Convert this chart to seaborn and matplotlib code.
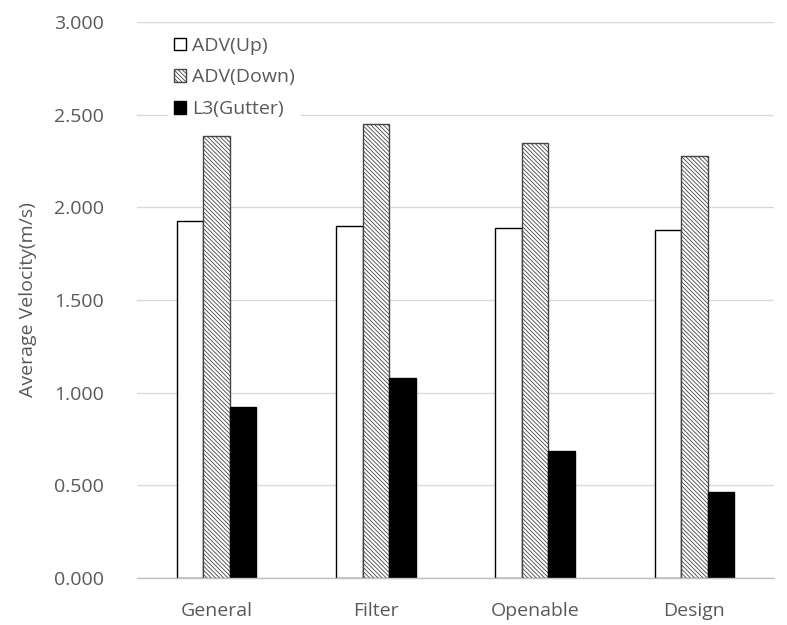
import matplotlib
matplotlib.use('Agg')
import matplotlib.pyplot as plt
import seaborn as sns
import pandas as pd
from matplotlib.patches import Patch
from matplotlib.ticker import FormatStrFormatter

categories = ['General', 'Filter', 'Openable', 'Design']
series = ['ADV(Up)', 'ADV(Down)', 'L3(Gutter)']
adv_up = [1.927, 1.900, 1.890, 1.876]
adv_down = [2.385, 2.452, 2.347, 2.277]
l3_gutter = [0.923, 1.081, 0.685, 0.462]
yticks = [0.0, 0.5, 1.0, 1.5, 2.0, 2.5, 3.0]

rows = []
for name, vals in zip(series, [adv_up, adv_down, l3_gutter]):
    for c, v in zip(categories, vals):
        rows.append({'cat': c, 'series': name, 'val': v})
df = pd.DataFrame(rows)

sns.set_theme(style='white')
plt.rcParams['font.family'] = ['Open Sans', 'DejaVu Sans']
plt.rcParams['hatch.linewidth'] = 0.6
text_color = '#595959'
fs = 14

fig = plt.figure(figsize=(7.87, 6.25), dpi=100)
ax = fig.add_axes([137/787, 1-578/625, (774-137)/787, (578-22)/625])
sns.barplot(data=df, x='cat', y='val', hue='series', order=categories,
            hue_order=series, width=0.5, gap=0, palette=['white', 'white', 'black'],
            saturation=1, ax=ax, legend=False, errorbar=None)

hatch = '\\\\\\\\\\\\\\\\'
styles = [dict(facecolor='white', edgecolor='black', hatch=None),
          dict(facecolor='white', edgecolor='#444444', hatch=hatch),
          dict(facecolor='black', edgecolor='black', hatch=None)]
for cont, st in zip(ax.containers, styles):
    for p in cont:
        p.set_facecolor(st['facecolor'])
        p.set_edgecolor(st['edgecolor'])
        p.set_linewidth(1.0)
        if st['hatch']:
            p.set_hatch(st['hatch'])

ax.set_ylim(0, 3.0)
ax.set_yticks(yticks)
ax.yaxis.set_major_formatter(FormatStrFormatter('%.3f'))
ax.grid(axis='y', color='#d9d9d9', linewidth=1)
ax.set_axisbelow(True)
for s in ['top', 'right', 'left']:
    ax.spines[s].set_visible(False)
ax.spines['bottom'].set_color('#bfbfbf')
ax.spines['bottom'].set_linewidth(1)
ax.tick_params(axis='both', length=0, labelsize=fs, colors=text_color)
ax.tick_params(axis='y', pad=24)
ax.tick_params(axis='x', pad=17)
ax.set_xlabel('')
ax.set_ylabel('Average Velocity(m/s)', fontsize=fs, color=text_color, labelpad=12)

handles = [Patch(facecolor=st['facecolor'], edgecolor=st['edgecolor'], hatch=st['hatch'], linewidth=1)
           for st in styles]
leg = fig.legend(handles, series, loc='upper left', bbox_to_anchor=(168/787, 1-31/625),
                 fontsize=fs, frameon=True, framealpha=1, facecolor='white', edgecolor='none',
                 handlelength=0.65, handleheight=0.65, handletextpad=0.3, labelspacing=0.7,
                 borderpad=0.3, borderaxespad=0, fancybox=False)
for t in leg.get_texts():
    t.set_color(text_color)

fig.savefig('out.png', dpi=100, facecolor='white')
